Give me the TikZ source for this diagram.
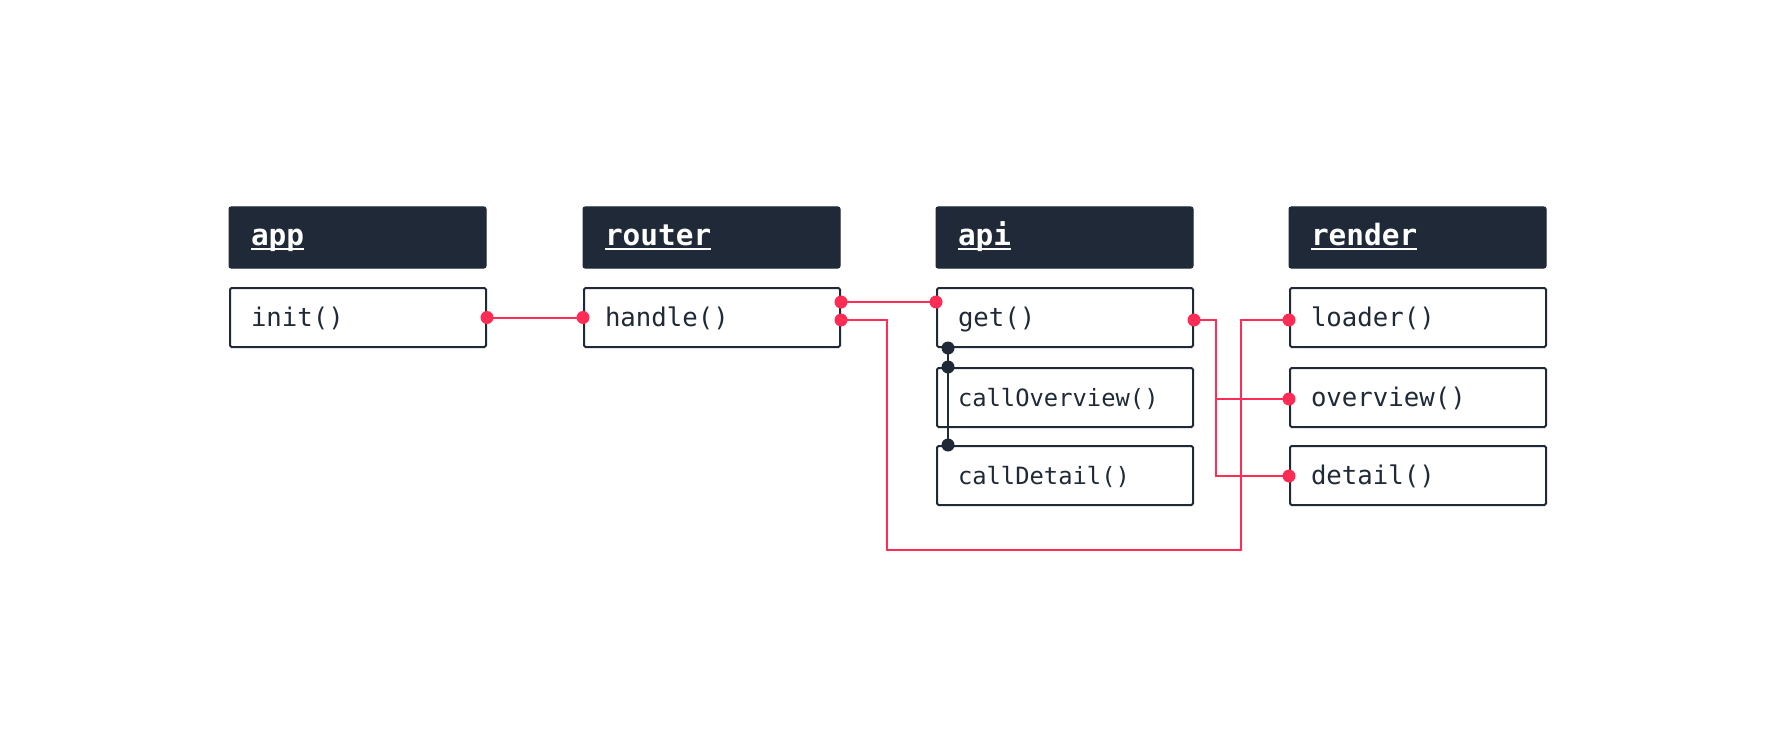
\documentclass[tikz,border=0pt]{standalone}
\usepackage{fontspec}
\newfontfamily\codefont{DejaVu Sans Mono}
\usetikzlibrary{calc}
\definecolor{ink}{HTML}{1F2937}
\definecolor{accent}{HTML}{FF2D55}
\newcommand\hdul[1]{\setbox0\hbox{#1}\rlap{\usebox0}\rule[-5pt]{\wd0}{2pt}}
\tikzset{
  header/.style={fill=ink, draw=ink, line width=1pt, rounded corners=2pt, anchor=north west,
    minimum width=257pt, minimum height=61pt, inner xsep=22pt, text width=213pt, align=left,
    text=white, font=\codefont\bfseries\fontsize{29.4pt}{30pt}\selectfont, text height=20pt, text depth=5pt},
  member/.style={draw=ink, line width=2pt, rounded corners=1.5pt, fill=white, anchor=north west,
    minimum width=256pt, minimum height=59pt, inner xsep=21pt, text width=214pt, align=left,
    text=ink, font=\codefont\fontsize{25.7pt}{27pt}\selectfont, text height=22pt, text depth=4pt},
  small/.style={font=\codefont\fontsize{23.8pt}{25pt}\selectfont},
  wire/.style={draw=accent, line width=2pt},
  link/.style={draw=ink, line width=2pt},
}
\begin{document}
\begin{tikzpicture}[x=1pt,y=-1pt]
\useasboundingbox (0,0) rectangle (1772,754);
% headers
\node[header] (app) at (228.5,206.5) {\hdul{app}};
\node[header] (router) at (582.5,206.5) {\hdul{router}};
\node[header] (api) at (935.5,206.5) {\hdul{api}};
\node[header] (render) at (1288.5,206.5) {\hdul{render}};
% members
\node[member] (init) at (229,287) {init()};
\node[member] (handle) at (583,287) {handle()};
\node[member] (get) at (936,287) {get()};
\node[member,small] (cov) at (936,367) {callOverview()};
\node[member,small] (cdet) at (936,445) {callDetail()};
\node[member] (loader) at (1289,287) {loader()};
\node[member] (overview) at (1289,367) {overview()};
\node[member] (detail) at (1289,445) {detail()};
% anchor points
\coordinate (iR) at (init.east);
\coordinate (hL) at (handle.west);
\coordinate (hA) at ($(handle.north east)+(0,15)$);
\coordinate (hB) at ($(handle.north east)+(0,33)$);
\coordinate (gL) at ($(get.north west)+(0,15)$);
\coordinate (gR) at ($(get.north east)+(0,33)$);
\coordinate (lL) at ($(loader.north west)+(0,33)$);
\coordinate (ovL) at ($(overview.north west)+(0,32)$);
\coordinate (dtL) at ($(detail.north west)+(0,31)$);
\coordinate (lp) at ($(lL)+(-48,230)$);
\coordinate (d1) at ($(get.south west)+(12,0)$);
\coordinate (d2) at ($(cov.north west)+(12,0)$);
\coordinate (d3) at ($(cdet.north west)+(12,0)$);
% red wires
\draw[wire] (iR) -- (hL);
\draw[wire] (hA) -- (gL);
\draw[wire] (hB) -- ++(46,0) |- (lp) |- (lL);
\draw[wire] (gR) -- ++(22,0) |- (ovL);
\draw[wire] (gR) -- ++(22,0) |- (dtL);
% dark link
\draw[link] (d1) -- (d3);
% dots
\foreach \p in {iR,hL,hA,hB,gL,gR,lL,ovL,dtL} \fill[accent] (\p) circle (6.5pt);
\foreach \p in {d1,d2,d3} \fill[ink] (\p) circle (6.5pt);
\end{tikzpicture}
\end{document}
